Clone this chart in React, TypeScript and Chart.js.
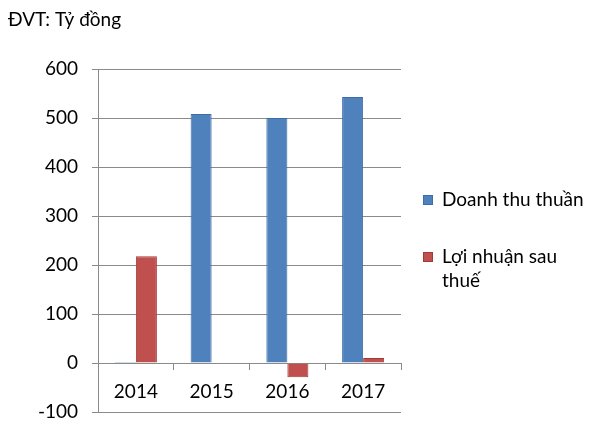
import { useEffect, useRef } from 'react';
import { Chart, registerables } from 'chart.js';

Chart.register(...registerables);

const unitLabel = 'ĐVT: Tỷ đồng';
const categories = ['2014', '2015', '2016', '2017'];
const seriesNames = ['Doanh thu thuần', 'Lợi nhuận sau thuế'];
const legendLines = [['Doanh thu thuần'], ['Lợi nhuận sau', 'thuế']];
const revenue = [2, 508, 500, 543];
const profit = [218, 0, -29, 10];
const yMin = -100;
const yMax = 600;
const yStep = 100;

const FONT = "Lato, 'Open Sans', 'Noto Sans', sans-serif";
const GRID = '#8a8a8a';
const BLUE = '#4F81BD';
const RED = '#C0504D';

const overlayPlugin = {
  id: 'overlay',
  afterDraw(chart: any) {
    const ctx = chart.ctx as CanvasRenderingContext2D;
    ctx.save();
    ctx.fillStyle = '#000';
    ctx.font = `19px ${FONT}`;
    ctx.textBaseline = 'middle';
    ctx.textAlign = 'left';
    ctx.fillText(unitLabel, 8, 20);

    const ds = chart.data.datasets;
    const starts = [200, 257];
    ds.forEach((d: any, i: number) => {
      const y = starts[i];
      ctx.fillStyle = d.backgroundColor;
      ctx.fillRect(423, y - 5, 10, 10);
      ctx.strokeStyle = d.borderColor;
      ctx.lineWidth = 1;
      ctx.strokeRect(423.5, y - 4.5, 9, 9);
      ctx.fillStyle = '#000';
      legendLines[i].forEach((line, j) => {
        ctx.fillText(line, 442, y + j * 24);
      });
    });
    ctx.restore();
  },
};

export default function App() {
  const ref = useRef<HTMLCanvasElement | null>(null);

  useEffect(() => {
    if (!ref.current) return;
    const chart = new Chart(ref.current, {
      type: 'bar',
      data: {
        labels: categories,
        datasets: [
          {
            label: seriesNames[0],
            data: revenue,
            backgroundColor: BLUE,
            borderColor: '#3D6CA6',
            borderWidth: 1,
            categoryPercentage: 0.555,
            barPercentage: 1,
          },
          {
            label: seriesNames[1],
            data: profit,
            backgroundColor: RED,
            borderColor: '#9E3B38',
            borderWidth: 1,
            categoryPercentage: 0.555,
            barPercentage: 1,
          },
        ],
      },
      options: {
        responsive: false,
        animation: false,
        layout: { padding: { left: 0, top: 69, right: 199, bottom: 14 } },
        plugins: {
          legend: { display: false },
          title: { display: false },
          tooltip: { enabled: false },
        },
        scales: {
          x: {
            type: 'category',
            position: { y: 0 } as any,
            offset: true,
            grid: {
              drawOnChartArea: false,
              drawTicks: true,
              tickLength: 6,
              color: GRID,
              offset: true,
            },
            border: { display: true, color: GRID, width: 1 },
            ticks: {
              color: '#000',
              font: { family: FONT, size: 19 },
              padding: 11,
              maxRotation: 0,
            },
            afterFit: (scale: any) => {
              scale.height = 0;
              scale.paddingLeft = 0;
              scale.paddingRight = 0;
            },
          },
          y: {
            min: yMin,
            max: yMax,
            grid: { color: GRID, tickLength: 6, drawTicks: true },
            border: { display: true, color: GRID, width: 1 },
            ticks: {
              stepSize: yStep,
              color: '#000',
              font: { family: FONT, size: 19 },
              padding: 14,
            },
            afterFit: (scale: any) => {
              scale.width = 98;
              scale.paddingTop = 0;
              scale.paddingBottom = 0;
            },
          },
        },
      },
      plugins: [overlayPlugin],
    });
    return () => chart.destroy();
  }, []);

  return (
    <div style={{ position: 'fixed', left: 0, top: 0, width: 600, height: 426, background: '#fff' }}>
      <canvas ref={ref} width={600} height={426} style={{ display: 'block' }} />
    </div>
  );
}
